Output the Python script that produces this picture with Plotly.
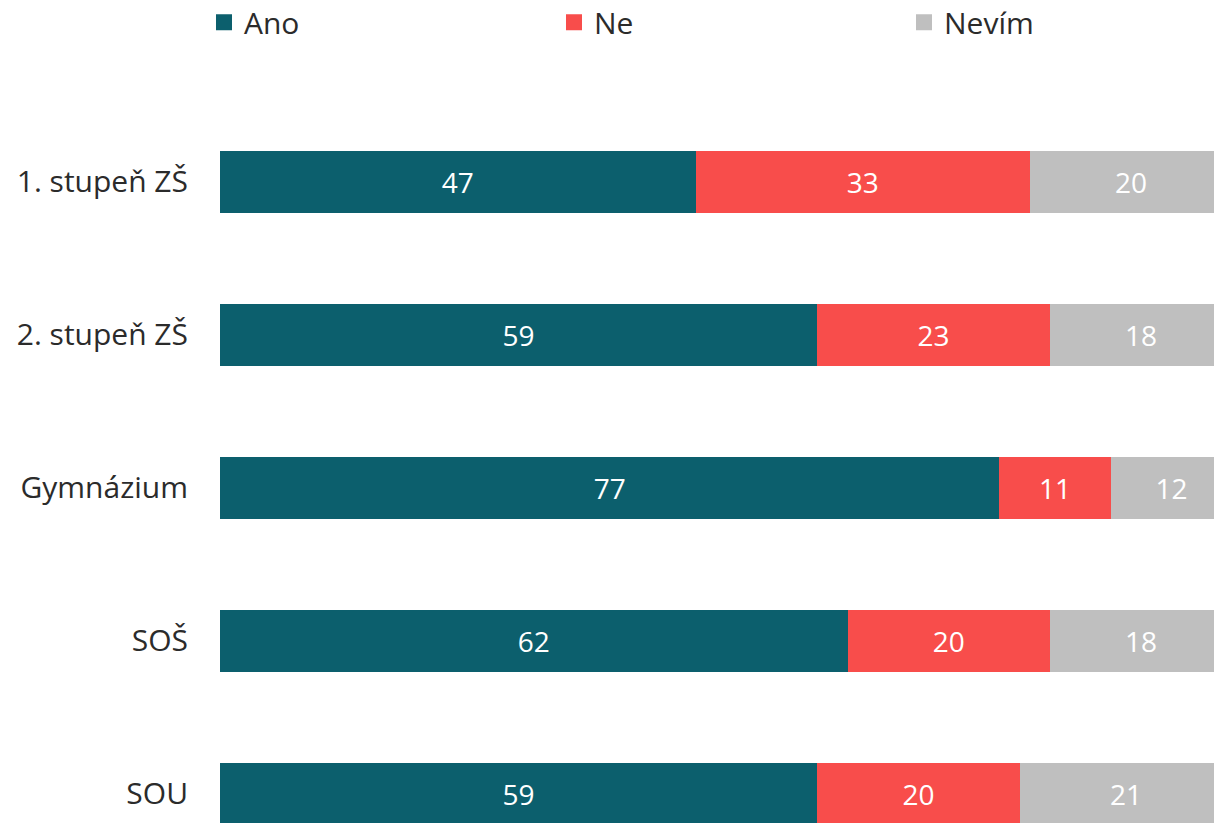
import plotly.graph_objects as go

categories = ["1. stupeň ZŠ", "2. stupeň ZŠ", "Gymnázium", "SOŠ", "SOU"]
ano = [47, 59, 77, 62, 59]
ne = [33, 23, 11, 20, 20]
nevim = [20, 18, 12, 18, 21]

series = [("Ano", ano, "#0C5F6D"), ("Ne", ne, "#F84D4B"), ("Nevím", nevim, "#BFBFBF")]

FONT = "Open Sans"
fig = go.Figure()
for name, vals, color in series:
    fig.add_trace(go.Bar(
        y=categories, x=vals, name=name, orientation="h",
        marker=dict(color=color, line=dict(width=0)),
        text=[str(v) for v in vals], textposition="inside",
        insidetextanchor="middle",
        textfont=dict(color="white", size=28, family=FONT),
        width=0.4, showlegend=False, cliponaxis=True,
    ))
    # legend entry
    fig.add_trace(go.Scatter(
        x=[None], y=[None], mode="markers", name=name,
        marker=dict(symbol="square", size=16, color=color),
        showlegend=True,
    ))

fig.update_layout(
    barmode="stack",
    width=1214, height=823,
    margin=dict(l=220, r=0, t=90, b=0, autoexpand=False),
    paper_bgcolor="white", plot_bgcolor="white",
    font=dict(family=FONT, size=30, color="#2b2b2b"),
    legend=dict(orientation="h",
                x=-0.0161, y=1.128, xanchor="left", yanchor="top",
                traceorder="normal",
                entrywidth=305, entrywidthmode="pixels",
                itemsizing="trace",
                font=dict(size=30, color="#2b2b2b")),
    xaxis=dict(range=[0, 98.2], visible=False, fixedrange=True, automargin=False),
    yaxis=dict(range=[4.19, -0.601], showgrid=False, zeroline=False,
               ticks="", ticklabelstandoff=31, automargin=False,
               tickfont=dict(size=30, color="#2b2b2b")),
    uniformtext=dict(mode="show", minsize=10),
)

fig.write_html(
    "out.html",
    config={"displayModeBar": False},
    post_script="document.body.style.margin='0';document.body.style.overflow='hidden';",
)
